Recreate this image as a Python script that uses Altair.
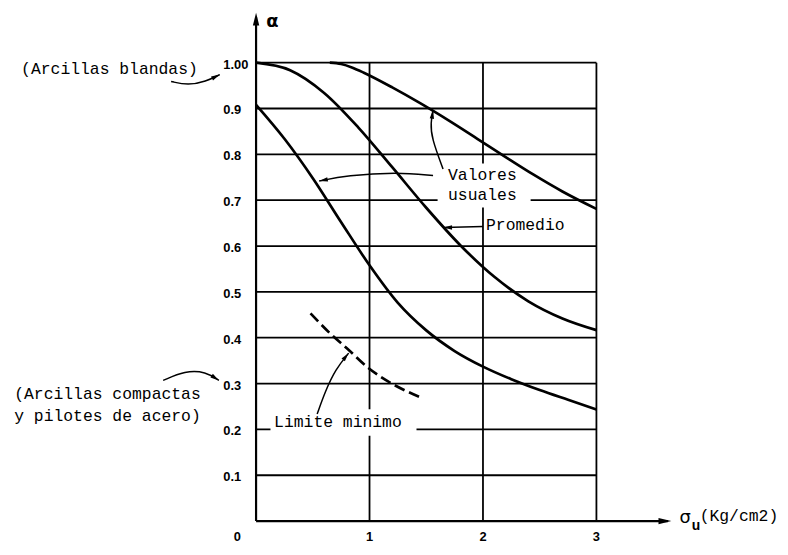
import altair as alt
import pandas as pd

# ---------------- data ----------------
# curves (sigma_u in Kg/cm2, alpha)
upper_x = [0.65, 0.75, 0.85, 0.95, 1.20, 1.45, 1.70, 1.95, 2.20, 2.45, 2.70, 3.00]
upper_y = [1.00, 0.997, 0.989, 0.978, 0.946, 0.911, 0.8735, 0.834, 0.794, 0.755, 0.719, 0.681]

mid_x = [0.0, 0.3, 0.6, 0.9, 1.2, 1.5, 1.8, 2.1, 2.4, 2.7, 3.0]
mid_y = [1.0, 0.9835, 0.934, 0.859, 0.772, 0.6835, 0.6018, 0.5328, 0.4795, 0.442, 0.4165]

low_x = [0.0, 0.25, 0.5, 0.75, 1.0, 1.25, 1.5, 1.75, 2.0, 2.25, 2.5, 2.75, 3.0]
low_y = [0.908, 0.834, 0.748, 0.652, 0.558, 0.476, 0.416, 0.371, 0.337, 0.3095, 0.2858, 0.2645, 0.2435]

min_x = [0.48, 0.65, 0.80, 0.99, 1.21, 1.45]
min_y = [0.453, 0.41, 0.377, 0.334, 0.298, 0.27]

# grid / ticks
h_levels = [0.1, 0.2, 0.3, 0.4, 0.5, 0.6, 0.7, 0.8, 0.9, 1.0]
v_levels = [1, 2, 3]
y_tick_vals = [0.1, 0.2, 0.3, 0.4, 0.5, 0.6, 0.7, 0.8, 0.9, 1.0]
y_tick_text = ["0.1", "0.2", "0.3", "0.4", "0.5", "0.6", "0.7", "0.8", "0.9", "1.00"]
x_tick_vals = [1, 2, 3]
x_tick_text = ["1", "2", "3"]
origin_text = ["0"]

# annotation texts (monospace)
note_text = ["(Arcillas blandas)", "(Arcillas compactas", "y pilotes de acero)",
             "Valores", "usuales", "Promedio", "Limite minimo", "(Kg/cm2)"]
note_x = [-2.071, -2.132, -2.132, 1.692, 1.692, 2.027, 0.159, 3.91]
note_y = [0.986, 0.2766, 0.230, 0.7546, 0.711, 0.646, 0.2157, 0.011]

# annotation leader arrows (paths)
arrow_ids = ["blandas"] * 4 + ["compactas"] * 4 + ["valA"] * 4 + ["valC"] * 4 + ["prom"] * 2 + ["lim"] * 4
arrow_x = [-0.749, -0.600, -0.442, -0.320,
           -0.819, -0.626, -0.442, -0.328,
           1.648, 1.546, 1.539, 1.560,
           1.560, 1.239, 0.801, 0.556,
           2.000, 1.651,
           0.5385, 0.611, 0.699, 0.816]
arrow_y = [0.959, 0.9505, 0.959, 0.974,
           0.3068, 0.328, 0.326, 0.3068,
           0.768, 0.8364, 0.8687, 0.8967,
           0.754, 0.761, 0.754, 0.7417,
           0.6426, 0.6405,
           0.2336, 0.2837, 0.3305, 0.3664]
head_x = [-0.320, -0.328, 1.560, 0.556, 1.651, 0.816]
head_y = [0.974, 0.3068, 0.8967, 0.7417, 0.6405, 0.3664]
head_angle = [63, 124, 8, 258, 270, 39]

# knock-outs behind labels (gaps in the grid)
ko_x0 = [1.60, 0.127]
ko_x1 = [2.42, 1.414]
ko_y0 = [0.684, 0.186]
ko_y1 = [0.780, 0.244]

# axis extents
yaxis_top = 1.109
xaxis_end = 3.66

# ---------------- build ----------------
xs = alt.Scale(domain=[0, 3], nice=False, zero=False)
ys = alt.Scale(domain=[0, 1], nice=False, zero=False)


def X(f):
    return alt.X(f, type="quantitative", scale=xs, axis=None)


def Y(f):
    return alt.Y(f, type="quantitative", scale=ys, axis=None)


rows = []
for name, xv, yv in [("upper", upper_x, upper_y), ("mid", mid_x, mid_y), ("low", low_x, low_y)]:
    for i, (a, b) in enumerate(zip(xv, yv)):
        rows.append({"series": name, "i": i, "x": a, "y": b})
curves_df = pd.DataFrame(rows)
min_df = pd.DataFrame({"x": min_x, "y": min_y, "i": range(len(min_x))})

gh_df = pd.DataFrame({"y": h_levels, "x0": [0] * len(h_levels), "x1": [3] * len(h_levels)})
gv_df = pd.DataFrame({"x": v_levels, "y0": [0] * len(v_levels), "y1": [1] * len(v_levels)})
ko_df = pd.DataFrame({"x0": ko_x0, "x1": ko_x1, "y0": ko_y0, "y1": ko_y1})
ax_df = pd.DataFrame({"x0": [0, 0], "x1": [0, xaxis_end - 0.03], "y0": [0, 0], "y1": [yaxis_top - 0.01, 0]})
axhead_df = pd.DataFrame({"x": [0, xaxis_end], "y": [yaxis_top, 0], "a": [0, 90]})

seq = []
c = {}
for k in arrow_ids:
    c[k] = c.get(k, -1) + 1
    seq.append(c[k])
arr_df = pd.DataFrame({"id": arrow_ids, "i": seq, "x": arrow_x, "y": arrow_y})
head_df = pd.DataFrame({"x": head_x, "y": head_y, "a": head_angle})

ytick_df = pd.DataFrame({"x": [0] * len(y_tick_vals), "y": y_tick_vals, "t": y_tick_text})
xtick_df = pd.DataFrame({"x": x_tick_vals, "y": [0] * len(x_tick_vals), "t": x_tick_text})
orig_df = pd.DataFrame({"x": [0], "y": [0], "t": origin_text})
note_df = pd.DataFrame({"x": note_x, "y": note_y, "t": note_text})

HEAD = "M0,0L0.4,1.6L-0.4,1.6Z"

grid_h = alt.Chart(gh_df).mark_rule(color="black", strokeWidth=1.8).encode(
    x=X("x0"), x2="x1", y=Y("y"))
grid_v = alt.Chart(gv_df).mark_rule(color="black", strokeWidth=1.8).encode(
    x=X("x"), y=Y("y0"), y2="y1")
knock = alt.Chart(ko_df).mark_rect(color="white").encode(
    x=X("x0"), x2="x1", y=Y("y0"), y2="y1")
axes = alt.Chart(ax_df).mark_rule(color="black", strokeWidth=2.2).encode(
    x=X("x0"), x2="x1", y=Y("y0"), y2="y1")
axheads = alt.Chart(axhead_df).mark_point(shape=HEAD, filled=True, color="black",
                                           opacity=1, size=260, strokeWidth=0).encode(
    x=X("x"), y=Y("y"), angle=alt.Angle("a:Q", scale=None))

curves = alt.Chart(curves_df).mark_line(color="black", strokeWidth=2.7, interpolate="monotone").encode(
    x=X("x"), y=Y("y"), detail="series:N", order="i:Q")
dashed = alt.Chart(min_df).mark_line(color="black", strokeWidth=2.7, strokeDash=[11, 5],
                                     interpolate="monotone").encode(
    x=X("x"), y=Y("y"), order="i:Q")

arrows = alt.Chart(arr_df).mark_line(color="black", strokeWidth=1.5, interpolate="basis").encode(
    x=X("x"), y=Y("y"), detail="id:N", order="i:Q")
heads = alt.Chart(head_df).mark_point(shape=HEAD, filled=True, color="black",
                                      opacity=1, size=120, strokeWidth=0).encode(
    x=X("x"), y=Y("y"), angle=alt.Angle("a:Q", scale=None))

ytick = alt.Chart(ytick_df).mark_text(align="left", baseline="middle", dx=-33, dy=2,
                                      font="Liberation Sans", fontWeight="bold", fontSize=13,
                                      color="black").encode(x=X("x"), y=Y("y"), text="t:N")
xtick = alt.Chart(xtick_df).mark_text(align="center", baseline="middle", dy=16,
                                      font="Liberation Sans", fontWeight="bold", fontSize=13,
                                      color="black").encode(x=X("x"), y=Y("y"), text="t:N")
orig = alt.Chart(orig_df).mark_text(align="center", baseline="middle", dx=-19, dy=16,
                                    font="Liberation Sans", fontWeight="bold", fontSize=13,
                                    color="black").encode(x=X("x"), y=Y("y"), text="t:N")
notes = alt.Chart(note_df).mark_text(align="left", baseline="middle", font="Liberation Mono",
                                     fontSize=16.5, color="black").encode(
    x=X("x"), y=Y("y"), text="t:N")

alpha_df = pd.DataFrame({"x": [0.1445], "y": [1.089], "t": ["α"]})
alpha = alt.Chart(alpha_df).mark_text(align="center", baseline="middle", font="DejaVu Sans",
                                      fontWeight="bold", fontSize=18, color="black").encode(
    x=X("x"), y=Y("y"), text="t:N")
sigma_df = pd.DataFrame({"x": [3.783], "y": [0.006], "t": ["σ"]})
sigma = alt.Chart(sigma_df).mark_text(align="center", baseline="middle", font="DejaVu Sans",
                                      fontSize=18, color="black").encode(
    x=X("x"), y=Y("y"), text="t:N")
sub_df = pd.DataFrame({"x": [3.877], "y": [-0.011], "t": ["u"]})
sub = alt.Chart(sub_df).mark_text(align="center", baseline="middle", font="Liberation Sans",
                                  fontWeight="bold", fontSize=14, color="black").encode(
    x=X("x"), y=Y("y"), text="t:N")

chart = alt.layer(
    grid_h, grid_v, knock, axes, axheads, curves, dashed, arrows, heads,
    ytick, xtick, orig, notes, alpha, sigma, sub
).properties(
    width=343, height=462,
    padding={"left": 250, "right": 185, "top": 53, "bottom": 20},
    autosize=alt.AutoSizeParams(type="none"),
    background="white",
).configure_view(stroke=None)

chart.save("out.html", embed_options={"renderer": "svg", "actions": False})
